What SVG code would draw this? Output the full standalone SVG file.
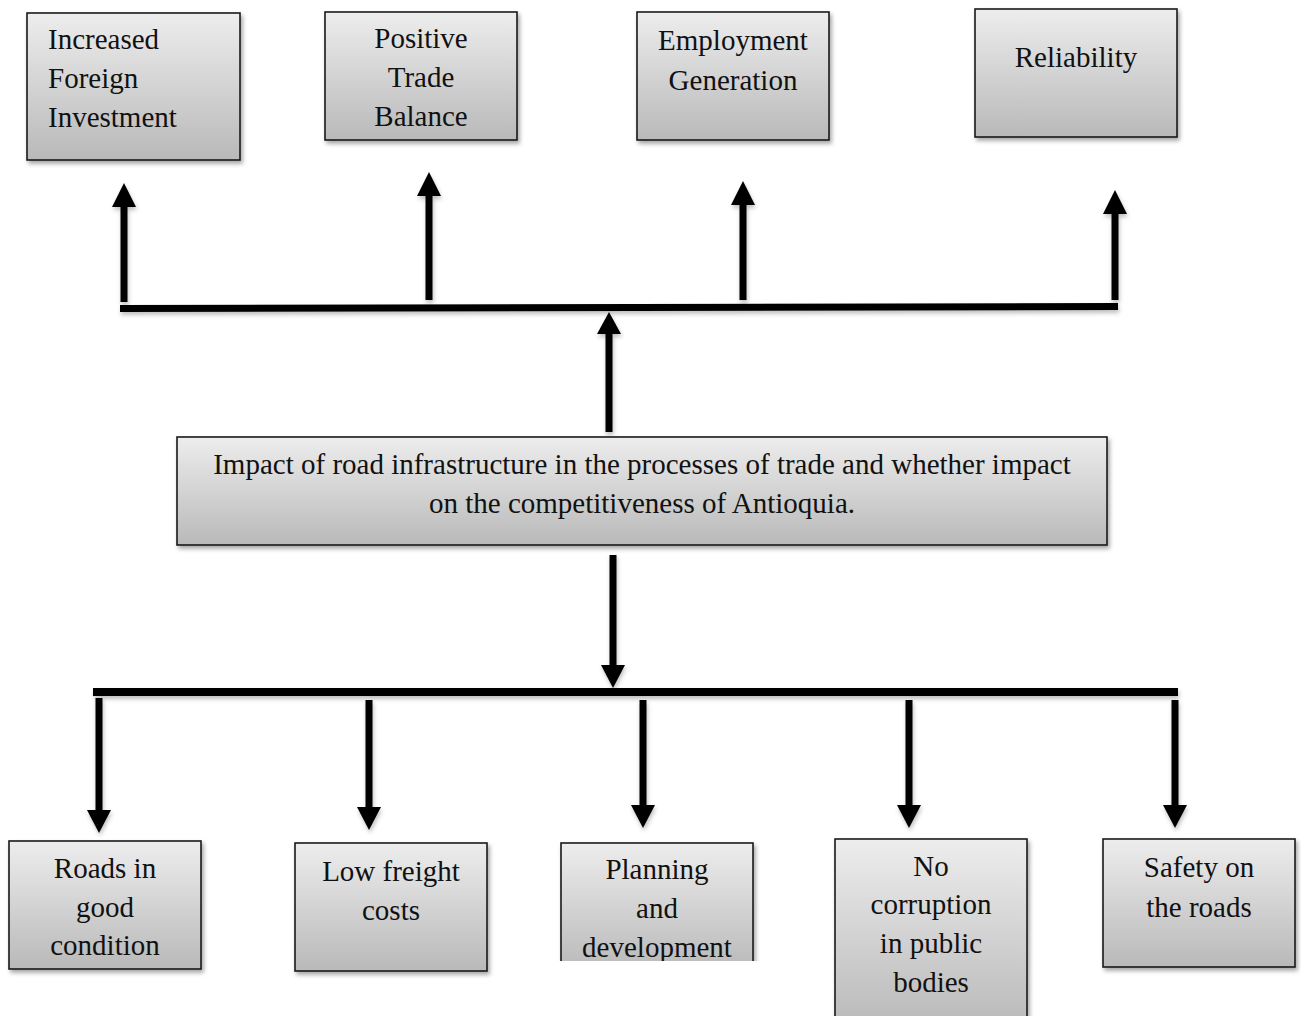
<svg xmlns="http://www.w3.org/2000/svg" width="1301" height="1016" viewBox="0 0 1301 1016">
<defs>
<linearGradient id="g" x1="0" y1="0" x2="0" y2="1">
<stop offset="0" stop-color="#ededed"/>
<stop offset="1" stop-color="#b9b9b9"/>
</linearGradient>
<filter id="sh" x="-10%" y="-10%" width="130%" height="130%">
<feDropShadow dx="2" dy="3" stdDeviation="2" flood-color="#000" flood-opacity="0.35"/>
</filter>
<filter id="ls" x="-20%" y="-20%" width="140%" height="140%">
<feDropShadow dx="1" dy="3" stdDeviation="2" flood-color="#000" flood-opacity="0.25"/>
</filter>
</defs>
<style>
.box{fill:url(#g);stroke:#1a1a1a;stroke-width:1.6;filter:url(#sh)}
text{font-family:"Liberation Serif","Times New Roman",serif;font-size:29px;fill:#111}
.c{text-anchor:middle}
.bar{fill:#000}
.conn{filter:url(#ls)}
</style>

<g id="connectors" class="conn">
<polygon class="bar" points="120,305 1118,303 1118,310 120,312"/>
<rect class="bar" x="120.5" y="206" width="7" height="96"/>
<polygon class="bar" points="112,207 124,183 136,207"/>
<rect class="bar" x="425.5" y="195" width="7" height="105"/>
<polygon class="bar" points="417,196 429,172 441,196"/>
<rect class="bar" x="739.5" y="204" width="7" height="96"/>
<polygon class="bar" points="731,205 743,181 755,205"/>
<rect class="bar" x="1111.5" y="213" width="7" height="87"/>
<polygon class="bar" points="1103,214 1115,190 1127,214"/>
<rect class="bar" x="605.5" y="333" width="7" height="99"/>
<polygon class="bar" points="597,334 609,312 621,334"/>
<rect class="bar" x="609.5" y="555" width="7" height="111"/>
<polygon class="bar" points="601,665 613,688 625,665"/>
<rect class="bar" x="93" y="688" width="1085" height="8"/>
<rect class="bar" x="95.5" y="698" width="7" height="113"/>
<polygon class="bar" points="87,810 99,833 111,810"/>
<rect class="bar" x="365.5" y="700" width="7" height="108"/>
<polygon class="bar" points="357,807 369,830 381,807"/>
<rect class="bar" x="639.5" y="700" width="7" height="106"/>
<polygon class="bar" points="631,805 643,828 655,805"/>
<rect class="bar" x="905.5" y="700" width="7" height="106"/>
<polygon class="bar" points="897,805 909,828 921,805"/>
<rect class="bar" x="1171.5" y="700" width="7" height="106"/>
<polygon class="bar" points="1163,805 1175,828 1187,805"/>
</g>

<g id="n-fdi">
<rect class="box" x="27" y="13" width="213" height="147"/>
<text x="48" y="49">Increased</text>
<text x="48" y="88">Foreign</text>
<text x="48" y="127">Investment</text>
</g>
<g id="n-trade">
<rect class="box" x="325" y="12" width="192" height="128"/>
<text class="c" x="421" y="48">Positive</text>
<text class="c" x="421" y="87">Trade</text>
<text class="c" x="421" y="126">Balance</text>
</g>
<g id="n-employment">
<rect class="box" x="637" y="12" width="192" height="128"/>
<text class="c" x="733" y="50">Employment</text>
<text class="c" x="733" y="90">Generation</text>
</g>
<g id="n-reliability">
<rect class="box" x="975" y="9" width="202" height="128"/>
<text class="c" x="1076" y="67">Reliability</text>
</g>

<g id="n-impact">
<rect class="box" x="177" y="437" width="930" height="108"/>
<text class="c" x="642" y="474">Impact of road infrastructure in the processes of trade and whether impact</text>
<text class="c" x="642" y="513">on the competitiveness of Antioquia.</text>
</g>

<g id="n-roads">
<rect class="box" x="9" y="841" width="192" height="128"/>
<text class="c" x="105" y="878">Roads in</text>
<text class="c" x="105" y="917">good</text>
<text class="c" x="105" y="955">condition</text>
</g>
<g id="n-freight">
<rect class="box" x="295" y="843" width="192" height="128"/>
<text class="c" x="391" y="881">Low freight</text>
<text class="c" x="391" y="920">costs</text>
</g>
<g id="n-planning">
<svg x="555" y="835" width="210" height="126" overflow="hidden">
<rect class="box" x="6" y="8" width="192" height="128"/>
<text class="c" x="102" y="44">Planning</text>
<text class="c" x="102" y="83">and</text>
<text class="c" x="102" y="122">development</text>
</svg>
</g>
<g id="n-corruption">
<rect class="box" x="835" y="839" width="192" height="190"/>
<text class="c" x="931" y="876">No</text>
<text class="c" x="931" y="914">corruption</text>
<text class="c" x="931" y="953">in public</text>
<text class="c" x="931" y="992">bodies</text>
</g>
<g id="n-safety">
<rect class="box" x="1103" y="839" width="192" height="128"/>
<text class="c" x="1199" y="877">Safety on</text>
<text class="c" x="1199" y="917">the roads</text>
</g>
</svg>
